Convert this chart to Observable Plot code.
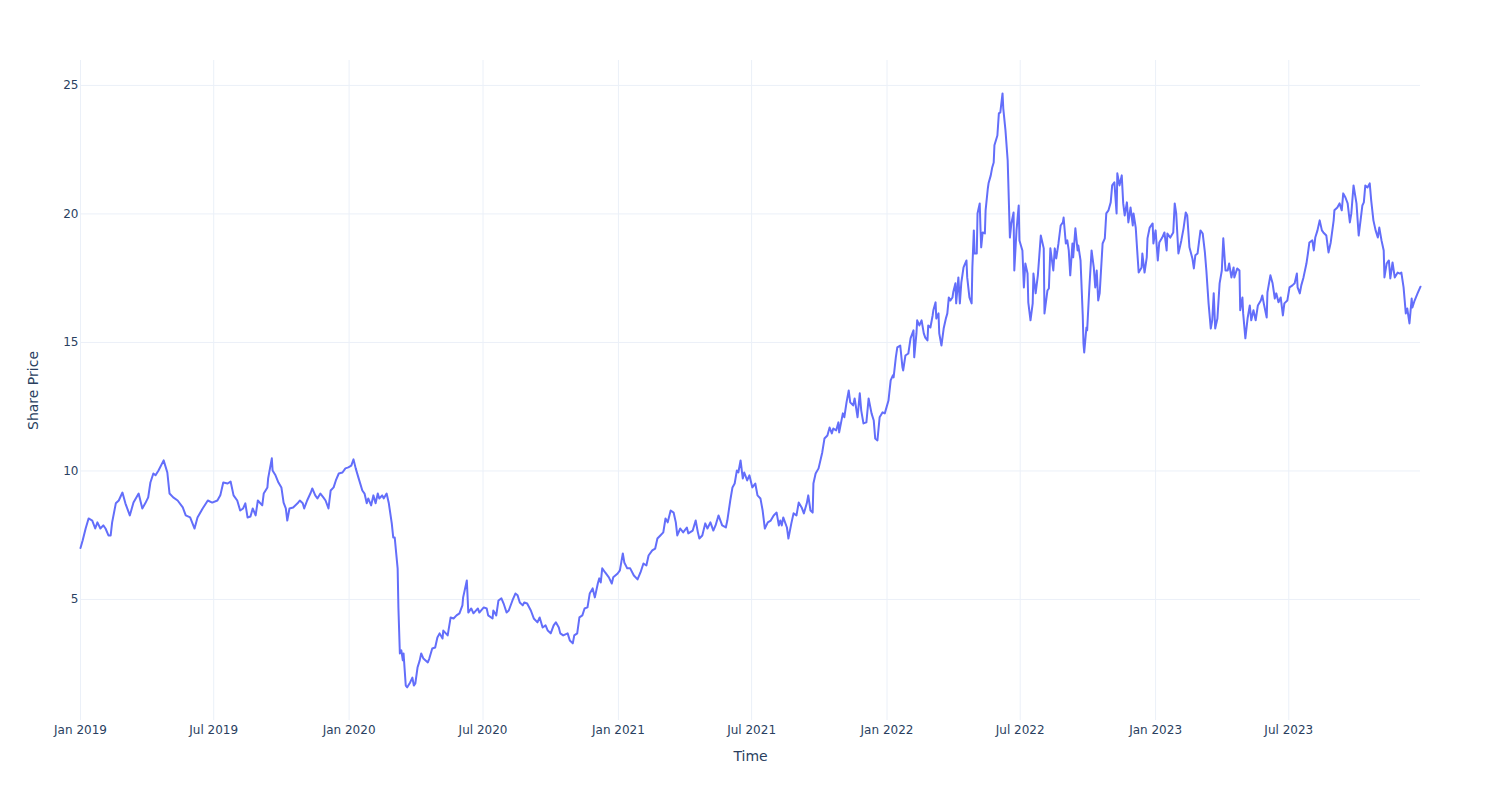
<!DOCTYPE html>
<html><head><meta charset="utf-8">
<script src="https://cdn.jsdelivr.net/npm/d3@7"></script>
<script src="https://cdn.jsdelivr.net/npm/@observablehq/plot@0.6"></script>
<style>body{margin:0;background:#fff}</style>
</head><body><div id="chart"></div>
<script>
const prices2019 = [
["2019-01-01",7.0],["2019-01-04",7.3],["2019-01-08",7.76],["2019-01-12",8.15],["2019-01-17",8.07],["2019-01-21",7.76],["2019-01-24",8.0],["2019-01-28",7.76],
["2019-02-01",7.88],["2019-02-04",7.76],["2019-02-08",7.49],["2019-02-11",7.49],["2019-02-13",8.0],["2019-02-18",8.74],["2019-02-22",8.85],["2019-02-27",9.16],
["2019-03-03",8.74],["2019-03-09",8.27],["2019-03-14",8.77],["2019-03-21",9.12],["2019-03-26",8.54],["2019-03-30",8.74],
["2019-04-03",8.97],["2019-04-06",9.55],["2019-04-10",9.90],["2019-04-13",9.83],["2019-04-17",10.02],["2019-04-24",10.41],["2019-04-29",9.94],
["2019-05-02",9.12],["2019-05-07",8.97],["2019-05-13",8.85],["2019-05-20",8.58],["2019-05-24",8.27],["2019-05-30",8.19],
["2019-06-05",7.76],["2019-06-09",8.19],["2019-06-16",8.54],["2019-06-23",8.85],["2019-06-29",8.77],
["2019-07-06",8.85],["2019-07-10",9.05],["2019-07-14",9.55],["2019-07-20",9.51],["2019-07-24",9.59],["2019-07-28",9.05],
["2019-08-02",8.85],["2019-08-06",8.46],["2019-08-10",8.54],["2019-08-13",8.74],["2019-08-16",8.19],["2019-08-20",8.23],["2019-08-23",8.54],["2019-08-27",8.27],["2019-08-30",8.85],
["2019-09-05",8.66],["2019-09-07",9.12],["2019-09-12",9.36],["2019-09-13",9.71],["2019-09-18",10.49],["2019-09-19",10.02],["2019-09-23",9.83],["2019-09-27",9.55],
["2019-10-01",9.36],["2019-10-04",8.77],["2019-10-07",8.54],["2019-10-09",8.07],["2019-10-12",8.54],["2019-10-17",8.58],["2019-10-23",8.74],["2019-10-26",8.85],["2019-10-30",8.74],
["2019-11-01",8.54],["2019-11-05",8.85],["2019-11-10",9.16],["2019-11-12",9.32],["2019-11-16",9.05],["2019-11-19",8.93],["2019-11-23",9.12],["2019-11-27",8.97],["2019-11-30",8.85],
["2019-12-04",8.54],["2019-12-07",9.24],["2019-12-11",9.36],["2019-12-14",9.63],["2019-12-18",9.90],["2019-12-23",9.94],["2019-12-27",10.10],["2019-12-31",10.14]
];
const prices2020 = [
["2020-01-04",10.21],["2020-01-07",10.45],["2020-01-10",10.10],["2020-01-14",9.71],["2020-01-19",9.24],["2020-01-22",9.12],["2020-01-25",8.74],["2020-01-27",8.93],["2020-01-31",8.66],
["2020-02-03",9.05],["2020-02-06",8.74],["2020-02-09",9.12],["2020-02-11",8.93],["2020-02-15",9.05],["2020-02-17",8.93],["2020-02-21",9.12],["2020-02-24",8.74],["2020-02-28",7.96],
["2020-03-01",7.41],["2020-03-03",7.41],["2020-03-05",6.8],["2020-03-07",6.2],["2020-03-08",4.7],["2020-03-10",2.9],["2020-03-12",3.02],["2020-03-14",2.63],["2020-03-15",2.90],
["2020-03-18",1.65],["2020-03-20",1.58],["2020-03-24",1.77],["2020-03-27",1.96],["2020-03-29",1.65],["2020-03-31",1.73],
["2020-04-03",2.35],["2020-04-06",2.63],["2020-04-08",2.90],["2020-04-11",2.70],["2020-04-17",2.55],["2020-04-19",2.70],["2020-04-23",3.09],["2020-04-27",3.13],["2020-04-30",3.52],
["2020-05-03",3.68],["2020-05-07",3.48],["2020-05-08",3.79],["2020-05-14",3.60],["2020-05-18",4.30],["2020-05-22",4.26],["2020-05-26",4.38],["2020-05-30",4.46],
["2020-06-03",4.77],["2020-06-04",5.08],["2020-06-09",5.74],["2020-06-11",4.49],["2020-06-15",4.65],["2020-06-18",4.46],["2020-06-24",4.65],["2020-06-26",4.49],
["2020-07-02",4.69],["2020-07-06",4.65],["2020-07-08",4.38],["2020-07-14",4.26],["2020-07-15",4.57],["2020-07-19",4.38],["2020-07-22",4.96],["2020-07-26",5.04],["2020-07-29",4.84],
["2020-08-02",4.49],["2020-08-05",4.57],["2020-08-10",4.96],["2020-08-14",5.23],["2020-08-17",5.16],["2020-08-20",4.88],["2020-08-24",4.77],["2020-08-26",4.88],["2020-08-30",4.84],
["2020-09-04",4.57],["2020-09-08",4.26],["2020-09-13",4.11],["2020-09-16",4.30],["2020-09-20",3.91],["2020-09-24",3.99],["2020-09-27",3.79],
["2020-10-01",3.68],["2020-10-05",3.99],["2020-10-08",4.11],["2020-10-12",3.91],["2020-10-14",3.68],["2020-10-18",3.60],["2020-10-24",3.68],["2020-10-27",3.40],["2020-10-31",3.29],
["2020-11-02",3.60],["2020-11-06",3.68],["2020-11-09",4.30],["2020-11-13",4.38],["2020-11-16",4.65],["2020-11-20",4.69],["2020-11-23",5.23],["2020-11-27",5.43],["2020-11-30",5.08],
["2020-12-04",5.62],["2020-12-06",5.82],["2020-12-08",5.66],["2020-12-10",6.21],["2020-12-14",6.05],["2020-12-19",5.86],["2020-12-23",5.62],["2020-12-25",5.86],["2020-12-31",6.01]
];
const prices2021 = [
["2021-01-03",6.13],["2021-01-07",6.79],["2021-01-09",6.44],["2021-01-13",6.21],["2021-01-17",6.21],["2021-01-22",5.93],["2021-01-27",5.78],["2021-01-31",6.05],
["2021-02-04",6.40],["2021-02-08",6.32],["2021-02-11",6.71],["2021-02-16",6.91],["2021-02-20",6.98],["2021-02-23",7.37],["2021-02-27",7.49],
["2021-03-03",7.61],["2021-03-06",8.15],["2021-03-09",8.00],["2021-03-13",8.46],["2021-03-17",8.38],["2021-03-20",8.00],["2021-03-22",7.49],["2021-03-26",7.76],["2021-03-30",7.61],
["2021-04-04",7.80],["2021-04-06",7.57],["2021-04-12",7.68],["2021-04-16",8.07],["2021-04-19",7.61],["2021-04-21",7.37],["2021-04-25",7.49],["2021-04-29",7.96],
["2021-05-02",7.76],["2021-05-06",8.00],["2021-05-10",7.68],["2021-05-13",7.88],["2021-05-17",8.27],["2021-05-22",7.88],["2021-05-27",7.80],["2021-05-29",8.07],
["2021-06-02",8.85],["2021-06-05",9.36],["2021-06-08",9.51],["2021-06-11",10.02],["2021-06-13",9.94],["2021-06-16",10.41],["2021-06-19",9.71],["2021-06-21",9.94],["2021-06-25",9.63],["2021-06-28",9.83],
["2021-07-02",9.36],["2021-07-06",9.51],["2021-07-09",9.05],["2021-07-13",8.93],["2021-07-16",8.46],["2021-07-19",7.76],["2021-07-23",8.00],["2021-07-27",8.07],["2021-07-31",8.27],
["2021-08-04",8.38],["2021-08-07",7.88],["2021-08-09",8.07],["2021-08-11",7.88],["2021-08-13",8.19],["2021-08-18",7.80],["2021-08-20",7.37],["2021-08-24",7.96],["2021-08-27",8.35],["2021-08-31",8.27],
["2021-09-03",8.77],["2021-09-07",8.58],["2021-09-10",8.35],["2021-09-14",8.74],["2021-09-16",9.05],["2021-09-19",8.46],["2021-09-22",8.38],["2021-09-23",9.51],["2021-09-26",9.90],["2021-09-30",10.10],
["2021-10-05",10.72],["2021-10-08",11.26],["2021-10-12",11.38],["2021-10-15",11.69],["2021-10-18",11.46],["2021-10-20",11.65],["2021-10-24",11.58],["2021-10-27",11.89],["2021-10-28",11.50],
["2021-11-02",12.24],["2021-11-04",12.09],["2021-11-07",12.67],["2021-11-10",13.13],["2021-11-12",12.67],["2021-11-16",12.55],["2021-11-18",12.82],["2021-11-22",12.09],["2021-11-25",13.02],["2021-11-27",12.35],["2021-11-30",11.85],
["2021-12-04",11.89],["2021-12-07",12.82],["2021-12-11",12.24],["2021-12-14",11.96],["2021-12-16",11.26],["2021-12-19",11.19],["2021-12-22",12.09],["2021-12-26",12.28],["2021-12-29",12.24]
];
const prices2022 = [
["2022-01-03",12.74],["2022-01-06",13.52],["2022-01-09",13.72],["2022-01-10",13.64],["2022-01-13",14.42],["2022-01-15",14.81],["2022-01-19",14.88],["2022-01-22",14.03],["2022-01-23",13.91],["2022-01-26",14.49],["2022-01-30",14.57],
["2022-02-02",15.16],["2022-02-05",15.39],["2022-02-06",15.47],["2022-02-07",14.42],["2022-02-10",15.35],["2022-02-11",15.86],["2022-02-14",15.66],["2022-02-17",15.86],["2022-02-20",15.35],["2022-02-22",15.19],["2022-02-25",15.08],["2022-02-26",15.66],
["2022-03-01",15.58],["2022-03-04",16.05],["2022-03-05",16.25],["2022-03-08",16.56],["2022-03-09",15.93],["2022-03-12",16.13],["2022-03-13",15.35],["2022-03-16",14.88],["2022-03-19",15.54],["2022-03-22",15.93],["2022-03-24",16.13],["2022-03-26",16.75],["2022-03-28",16.63],["2022-03-31",16.75],
["2022-04-01",16.95],["2022-04-04",17.30],["2022-04-05",16.52],["2022-04-08",17.53],["2022-04-10",16.52],["2022-04-12",17.33],["2022-04-15",17.92],["2022-04-19",18.19],["2022-04-20",17.53],["2022-04-23",16.75],["2022-04-26",16.52],["2022-04-27",17.92],["2022-04-29",19.36],["2022-04-30",18.46],
["2022-05-03",18.46],["2022-05-04",20.02],["2022-05-07",20.41],["2022-05-08",19.47],["2022-05-09",18.70],["2022-05-11",19.28],["2022-05-14",19.24],["2022-05-15",20.14],["2022-05-18",20.99],["2022-05-19",21.19],["2022-05-22",21.50],["2022-05-24",21.81],["2022-05-26",22.00],["2022-05-27",22.67],["2022-05-31",23.05],
["2022-06-02",23.91],["2022-06-04",23.95],["2022-06-07",24.69],["2022-06-08",24.11],["2022-06-11",23.25],["2022-06-14",22.08],["2022-06-17",19.08],["2022-06-19",19.63],["2022-06-22",20.06],["2022-06-23",17.80],["2022-06-26",19.36],["2022-06-29",20.33],["2022-06-30",18.97],
["2022-07-04",18.58],["2022-07-06",17.14],["2022-07-08",18.07],["2022-07-11",17.68],["2022-07-12",16.56],["2022-07-15",15.86],["2022-07-18",16.52],["2022-07-19",17.68],["2022-07-22",16.91],["2022-07-25",17.61],["2022-07-29",19.16],
["2022-08-02",18.66],["2022-08-03",16.13],["2022-08-07",17.02],["2022-08-09",17.10],["2022-08-11",18.66],["2022-08-15",17.80],["2022-08-17",18.66],["2022-08-19",18.27],["2022-08-22",18.85],["2022-08-25",19.55],["2022-08-28",19.67],["2022-08-29",19.86],
["2022-09-01",18.85],["2022-09-03",18.97],["2022-09-05",18.58],["2022-09-07",17.61],["2022-09-10",18.85],["2022-09-11",18.31],["2022-09-14",19.44],["2022-09-17",18.58],["2022-09-18",18.77],["2022-09-21",18.19],["2022-09-24",16.05],["2022-09-25",14.96],["2022-09-26",14.61],["2022-09-29",15.58],["2022-09-30",15.47],
["2022-10-03",17.14],["2022-10-06",18.58],["2022-10-09",17.92],["2022-10-11",17.14],["2022-10-13",17.80],["2022-10-15",16.63],["2022-10-17",16.91],["2022-10-21",18.85],["2022-10-24",19.05],["2022-10-26",20.02],["2022-10-29",20.14],
["2022-11-01",20.45],["2022-11-03",21.11],["2022-11-06",21.23],["2022-11-09",20.02],["2022-11-10",21.58],["2022-11-13",21.11],["2022-11-16",21.50],["2022-11-18",20.41],["2022-11-20",19.94],["2022-11-23",20.45],["2022-11-25",19.67],["2022-11-28",20.25],
["2022-12-01",19.55],["2022-12-02",20.02],["2022-12-05",19.47],["2022-12-07",18.58],["2022-12-09",17.72],["2022-12-13",17.92],["2022-12-14",18.46],["2022-12-17",17.72],["2022-12-20",18.31],["2022-12-21",19.05],["2022-12-24",19.47],["2022-12-28",19.63],["2022-12-29",18.85]
];
const prices2023 = [
["2023-01-01",19.36],["2023-01-04",18.19],["2023-01-06",18.89],["2023-01-10",19.08],["2023-01-13",19.28],["2023-01-16",18.58],["2023-01-17",19.24],["2023-01-21",19.08],["2023-01-25",19.28],["2023-01-27",20.41],["2023-01-29",20.02],
["2023-02-01",18.46],["2023-02-05",18.97],["2023-02-08",19.44],["2023-02-11",20.06],["2023-02-13",19.94],["2023-02-16",18.70],["2023-02-20",18.27],["2023-02-22",17.88],["2023-02-24",18.39],["2023-02-27",18.46],
["2023-03-03",19.36],["2023-03-06",19.24],["2023-03-09",18.50],["2023-03-11",17.80],["2023-03-14",16.52],["2023-03-17",15.54],["2023-03-19",15.86],["2023-03-21",16.91],["2023-03-23",15.54],["2023-03-26",15.93],["2023-03-29",17.30],
["2023-04-01",17.80],["2023-04-03",19.05],["2023-04-06",17.80],["2023-04-09",17.80],["2023-04-11",18.07],["2023-04-14",17.53],["2023-04-17",17.92],["2023-04-18",17.53],["2023-04-22",17.88],["2023-04-25",17.80],["2023-04-26",16.25],["2023-04-29",16.75],["2023-04-30",16.13],
["2023-05-03",15.16],["2023-05-06",15.93],["2023-05-09",16.44],["2023-05-11",15.86],["2023-05-14",16.25],["2023-05-17",15.86],["2023-05-20",16.44],["2023-05-24",16.63],["2023-05-26",16.83],["2023-05-28",16.52],
["2023-06-01",15.97],["2023-06-02",16.95],["2023-06-06",17.61],["2023-06-09",17.30],["2023-06-12",16.71],["2023-06-14",16.91],["2023-06-17",16.56],["2023-06-20",16.75],["2023-06-23",16.05],["2023-06-25",16.52],["2023-06-29",16.63],
["2023-07-02",17.14],["2023-07-06",17.22],["2023-07-09",17.30],["2023-07-12",17.68],["2023-07-13",17.14],["2023-07-16",16.91],["2023-07-18",17.22],["2023-07-21",17.53],["2023-07-25",18.07],["2023-07-27",18.46],["2023-07-29",18.89],
["2023-08-02",18.97],["2023-08-04",18.58],["2023-08-06",19.08],["2023-08-09",19.36],["2023-08-12",19.75],["2023-08-15",19.36],["2023-08-17",19.28],["2023-08-21",19.16],["2023-08-24",18.50],["2023-08-27",18.89],["2023-08-31",19.75],
["2023-09-01",20.14],["2023-09-05",20.25],["2023-09-08",20.41],["2023-09-11",20.14],["2023-09-13",20.80],["2023-09-16",20.64],["2023-09-19",20.41],["2023-09-22",19.67],["2023-09-24",20.02],["2023-09-27",21.11],
["2023-10-01",20.41],["2023-10-04",19.16],["2023-10-07",19.86],["2023-10-09",20.33],["2023-10-11",20.45],["2023-10-13",21.11],["2023-10-16",21.03],["2023-10-19",21.19],["2023-10-21",20.53],["2023-10-24",19.75],["2023-10-27",19.36],["2023-10-30",19.08],
["2023-11-01",19.47],["2023-11-04",18.97],["2023-11-07",18.58],["2023-11-08",17.53],["2023-11-11",18.07],["2023-11-14",18.19],["2023-11-16",17.49],["2023-11-19",18.11],["2023-11-22",17.53],["2023-11-26",17.72],["2023-11-29",17.68],
["2023-12-01",17.72],["2023-12-04",17.14],["2023-12-07",16.13],["2023-12-09",16.32],["2023-12-12",15.74],["2023-12-15",16.71],["2023-12-16",16.36],["2023-12-19",16.63],["2023-12-23",16.91],["2023-12-27",17.17]
];
const xTickDates = ["2019-01-01","2019-07-01","2020-01-01","2020-07-01","2021-01-01","2021-07-01","2022-01-01","2022-07-01","2023-01-01","2023-07-01"];
const yTicks = [5, 10, 15, 20, 25];
const xDomain = ["2019-01-01", "2023-12-27"];
const yDomain = [0.29, 25.97];
const xTitle = "Time";
const yTitle = "Share Price";

const toDate = (s) => new Date(s + "T00:00:00Z");
const rows = [...prices2019, ...prices2020, ...prices2021, ...prices2022, ...prices2023]
  .map(([d, v]) => ({date: toDate(d), price: v}));
const xt = xTickDates.map(toDate);

const chart = Plot.plot({
  width: 1500, height: 800,
  marginLeft: 80, marginRight: 80, marginTop: 60, marginBottom: 80,
  style: {fontFamily: "'DejaVu Sans', sans-serif", fontSize: "12px", color: "#2a3f5f", background: "#fff"},
  x: {type: "utc", domain: xDomain.map(toDate), ticks: xt, tickFormat: d3.utcFormat("%b %Y"), tickSize: 0, tickPadding: 5, label: null},
  y: {domain: yDomain, ticks: yTicks, tickSize: 0, tickPadding: 2, label: null},
  marks: [
    Plot.gridX(xt, {stroke: "#ebf0f8", strokeOpacity: 1}),
    Plot.gridY(yTicks, {stroke: "#ebf0f8", strokeOpacity: 1}),
    Plot.line(rows, {x: "date", y: "price", stroke: "#636efa", strokeWidth: 2}),
    Plot.text([xTitle], {text: d => d, frameAnchor: "bottom", dy: 40, fontSize: 14, fill: "#2a3f5f"}),
    Plot.text([yTitle], {text: d => d, frameAnchor: "left", textAnchor: "middle", dx: -47, rotate: -90, fontSize: 14, fill: "#2a3f5f"})
  ]
});
document.getElementById("chart").appendChild(chart);
</script>
</body></html>
